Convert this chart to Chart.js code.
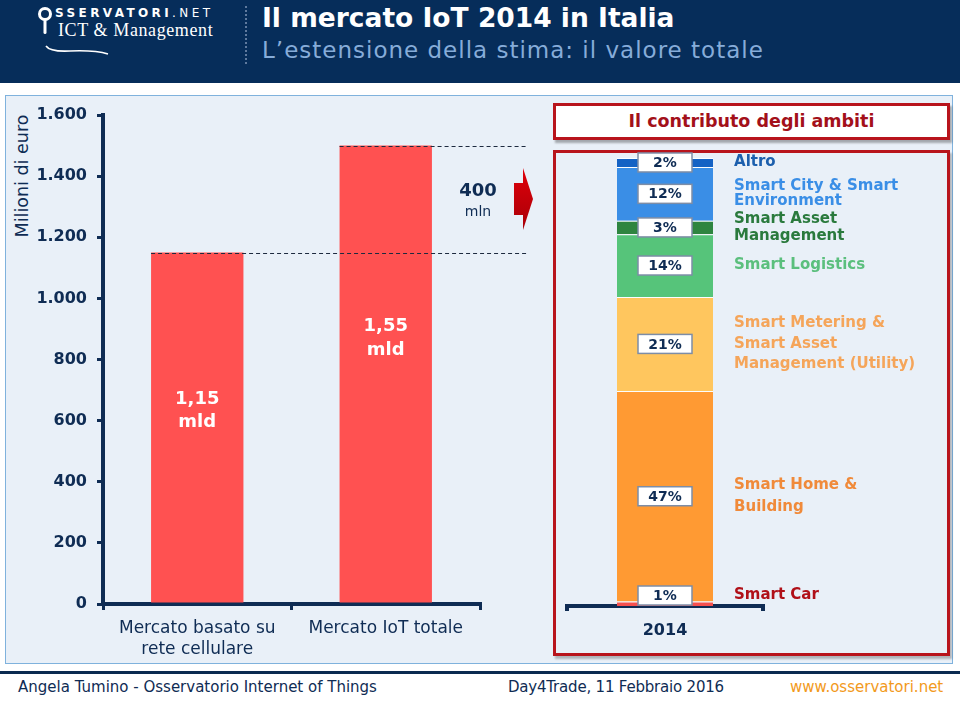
<!DOCTYPE html>
<html><head><meta charset="utf-8">
<script src="https://cdn.jsdelivr.net/npm/chart.js@4.4.1/dist/chart.umd.min.js"></script>
<style>
html,body{margin:0;padding:0;background:#fff;width:960px;height:702px;overflow:hidden;}
body{position:relative;font-family:'DejaVu Sans',sans-serif;}
.abs{position:absolute;white-space:nowrap;}
#header{left:0;top:0;width:960px;height:83px;background:#062d5a;}
#title{left:262px;top:2px;color:#fff;font:bold 26.5px 'DejaVu Sans',sans-serif;line-height:normal;}
#subtitle{left:262px;top:37px;color:#86acd9;font:23px 'DejaVu Sans',sans-serif;line-height:normal;letter-spacing:1px;}
#sep{left:245px;top:6px;height:58px;border-left:2px dotted #5f7a9e;}
#logo1{left:55px;top:6px;color:#fff;font:bold 12px 'DejaVu Sans';letter-spacing:3.4px;}
#logo1 span{font-weight:normal;}
#logo2{left:58px;top:20px;color:#fff;font:18px 'Liberation Serif',serif;letter-spacing:0.6px;}
#panel{left:5px;top:95px;width:946px;height:567px;background:#e9f0f8;border:1px solid #7fb2dd;}
#ytitle{left:22px;top:176px;transform:translate(-50%,-50%) rotate(-90deg);color:#0f2c54;font:17.5px 'DejaVu Sans';}
#tbox{left:553px;top:103px;width:397px;height:37px;box-sizing:border-box;background:#fff;border:3px solid #b8141c;box-shadow:2px 3px 2px rgba(0,0,0,0.3);color:#a3101a;font:bold 17.5px 'DejaVu Sans';text-align:center;line-height:31px;}
#rbox{left:553px;top:150px;width:397px;height:506px;box-sizing:border-box;border:3px solid #b8141c;box-shadow:2px 3px 2px rgba(0,0,0,0.25);}
#footline{left:0;top:671px;width:960px;height:3px;background:#0b2a50;}
.foot{top:678px;font:15px 'DejaVu Sans',sans-serif;line-height:normal;color:#0f2c54;}
</style></head>
<body>
<div id="header" class="abs"></div>
<svg class="abs" style="left:0;top:0" width="240" height="83">
  <circle cx="45" cy="14" r="5.5" fill="none" stroke="#fff" stroke-width="3"/>
  <rect x="43.5" y="19" width="3" height="15" rx="1.5" fill="#fff"/>
  <path d="M46 46 Q50 52 70 51 Q95 50 108 54" fill="none" stroke="#fff" stroke-width="1.6"/>
</svg>
<div id="logo1" class="abs">SSERVATORI<span>.NET</span></div>
<div id="logo2" class="abs">ICT &amp; Management</div>
<div id="sep" class="abs"></div>
<div id="title" class="abs">Il mercato IoT 2014 in Italia</div>
<div id="subtitle" class="abs">L’estensione della stima: il valore totale</div>
<div id="panel" class="abs"></div>
<div id="ytitle" class="abs">Milioni di euro</div>
<div id="tbox" class="abs">Il contributo degli ambiti</div>
<div id="rbox" class="abs"></div>
<canvas id="leftChart" class="abs" width="540" height="580" style="left:0;top:90px"></canvas>
<canvas id="rightChart" class="abs" width="397" height="506" style="left:553px;top:150px"></canvas>
<div id="footline" class="abs"></div>
<div class="abs foot" style="left:18px">Angela Tumino - Osservatorio Internet of Things</div>
<div class="abs foot" style="left:508px;letter-spacing:-0.2px">Day4Trade, 11 Febbraio 2016</div>
<div class="abs foot" style="left:790px;color:#f29a1c">www.osservatori.net</div>
<script>
// ---------- data ----------
const marketCategories = [['Mercato basato su', 'rete cellulare'], 'Mercato IoT totale'];
const marketValues = [1150, 1500];
const marketLabels = [['1,15', 'mld'], ['1,55', 'mld']];
const deltaLabel = ['400', 'mln'];
const yMin = 0, yMax = 1600, yStep = 200;

const yearCategories = ['2014'];
const segmentNames = ['Smart Car', 'Smart Home & Building', 'Smart Metering & Smart Asset Management (Utility)', 'Smart Logistics', 'Smart Asset Management', 'Smart City & Smart Environment', 'Altro'];
const segmentShares = [1, 47, 21, 14, 3, 12, 2];
const segmentLegendLines = [['Smart Car'], ['Smart Home &', 'Building'], ['Smart Metering &', 'Smart Asset', 'Management (Utility)'], ['Smart Logistics'], ['Smart Asset', 'Management'], ['Smart City & Smart', 'Environment'], ['Altro']];

// ---------- style ----------
const navy = '#0f2c54';
const barRed = '#ff5151';
const segmentColors = ['#f5504f', '#ff9a33', '#ffc65e', '#56c47a', '#2e8540', '#3a8ee6', '#1462c4'];
const legendColors = ['#b01018', '#f08a3a', '#f5a55a', '#5bbf7d', '#2a7a3d', '#3a8ee6', '#1c5fad'];
const legendLineHeights = [18, 22, 20.5, 18, 17, 15, 18];
const labelAnchorFractions = [0.55, 0.58];

function fmtIt(v) { return String(v).replace(/\B(?=(\d{3})+(?!\d))/g, '.'); }

const leftDecor = {
  id: 'leftDecor',
  afterDatasetsDraw(chart) {
    const { ctx, chartArea } = chart;
    const meta = chart.getDatasetMeta(0);
    const yS = chart.scales.y;
    const endX = chartArea.right + 48;
    ctx.save();
    ctx.setLineDash([4, 3]);
    ctx.strokeStyle = '#1d2a3f';
    ctx.lineWidth = 1.2;
    meta.data.forEach(bar => {
      const y = Math.round(bar.y) + 0.5;
      ctx.beginPath(); ctx.moveTo(bar.x - bar.width / 2, y); ctx.lineTo(endX, y); ctx.stroke();
    });
    ctx.setLineDash([]);
    ctx.textAlign = 'center'; ctx.textBaseline = 'middle';
    ctx.fillStyle = '#fff';
    ctx.font = 'bold 18px "DejaVu Sans"';
    meta.data.forEach((bar, i) => {
      const yc = yS.getPixelForValue(marketValues[i] * labelAnchorFractions[i]);
      marketLabels[i].forEach((t, j) => ctx.fillText(t, bar.x, yc + (j - 0.5) * 23.5));
    });
    const mid = (meta.data[0].y + meta.data[1].y) / 2;
    ctx.fillStyle = navy;
    ctx.font = 'bold 18px "DejaVu Sans"';
    ctx.fillText(deltaLabel[0], chartArea.right - 2, mid - 8);
    ctx.font = '14px "DejaVu Sans"';
    ctx.fillText(deltaLabel[1], chartArea.right - 2, mid + 13);
    const ax = chartArea.right + 34;
    const g = ctx.createLinearGradient(0, mid - 31, 0, mid + 31);
    g.addColorStop(0, '#e0000a'); g.addColorStop(1, '#a80008');
    ctx.fillStyle = g;
    ctx.beginPath();
    ctx.moveTo(ax, mid - 16); ctx.lineTo(ax + 9, mid - 16); ctx.lineTo(ax + 9, mid - 31);
    ctx.lineTo(ax + 19, mid); ctx.lineTo(ax + 9, mid + 31); ctx.lineTo(ax + 9, mid + 16);
    ctx.lineTo(ax, mid + 16); ctx.closePath(); ctx.fill();
    ctx.restore();
  }
};

new Chart(document.getElementById('leftChart'), {
  type: 'bar',
  data: { labels: marketCategories, datasets: [{ data: marketValues, backgroundColor: barRed, barPercentage: 0.49, categoryPercentage: 1 }] },
  options: {
    responsive: false, animation: false, devicePixelRatio: 1,
    layout: { padding: { top: 25, right: 60, bottom: 0, left: 0 } },
    plugins: { legend: { display: false }, tooltip: { enabled: false } },
    scales: {
      x: {
        afterFit(s) { s.height = 66; },
        border: { display: true, color: navy, width: 4 },
        grid: { drawOnChartArea: false, drawTicks: true, tickLength: 6, color: navy, lineWidth: 3, offset: true },
        ticks: { color: navy, font: { family: 'DejaVu Sans', size: 17, lineHeight: 1.25 }, padding: 8, maxRotation: 0 }
      },
      y: {
        min: yMin, max: yMax,
        afterFit(s) { s.width = 103; },
        border: { display: true, color: navy, width: 4 },
        grid: { drawOnChartArea: false, drawTicks: true, tickLength: 6, color: navy, lineWidth: 3 },
        ticks: { stepSize: yStep, color: navy, font: { family: 'DejaVu Sans', size: 16, weight: 'bold' }, padding: 10, callback: v => fmtIt(v) }
      }
    }
  },
  plugins: [leftDecor]
});

const rightDecor = {
  id: 'rightDecor',
  afterDatasetsDraw(chart) {
    const { ctx, chartArea } = chart;
    ctx.save();
    chart.data.datasets.forEach((ds, i) => {
      const el = chart.getDatasetMeta(i).data[0];
      const cy = (el.y + el.base) / 2;
      const bw = 54, bh = 19;
      let top = cy - bh / 2;
      if (top + bh > chartArea.bottom - 1) top = chartArea.bottom - 1 - bh;
      ctx.fillStyle = '#fff';
      ctx.fillRect(el.x - bw / 2, top, bw, bh);
      ctx.strokeStyle = '#7d8da6'; ctx.lineWidth = 1.5;
      ctx.strokeRect(el.x - bw / 2, top, bw, bh);
      ctx.fillStyle = navy; ctx.font = 'bold 14px "DejaVu Sans"';
      ctx.textAlign = 'center'; ctx.textBaseline = 'middle';
      ctx.fillText(ds.data[0] + '%', el.x, top + bh / 2 + 1);
      const lines = segmentLegendLines[i];
      const lh = legendLineHeights[i];
      let lc = cy;
      const half = (lines.length * lh) / 2;
      if (lc + half > chartArea.bottom - 2) lc = chartArea.bottom - 2 - half;
      ctx.fillStyle = legendColors[i];
      ctx.font = 'bold 15px "DejaVu Sans"';
      ctx.textAlign = 'left';
      lines.forEach((t, j) => ctx.fillText(t, el.x + el.width / 2 + 21, lc + (j - (lines.length - 1) / 2) * lh));
    });
    ctx.restore();
  }
};

new Chart(document.getElementById('rightChart'), {
  type: 'bar',
  data: {
    labels: yearCategories,
    datasets: segmentNames.map((n, i) => ({
      label: n, data: [segmentShares[i]], backgroundColor: segmentColors[i],
      borderColor: 'rgba(255,255,255,0.85)', borderWidth: { top: 1, bottom: 0, left: 0, right: 0 },
      barPercentage: 0.49, categoryPercentage: 1
    }))
  },
  options: {
    responsive: false, animation: false, devicePixelRatio: 1,
    layout: { padding: { top: 8, right: 187, bottom: 0, left: 14 } },
    plugins: { legend: { display: false }, tooltip: { enabled: false } },
    scales: {
      x: {
        stacked: true,
        afterFit(s) { s.height = 50; },
        border: { display: true, color: navy, width: 4 },
        grid: { drawOnChartArea: false, drawTicks: true, tickLength: 5, color: navy, lineWidth: 4, offset: true },
        ticks: { color: navy, font: { family: 'DejaVu Sans', size: 16, weight: 'bold' }, padding: 10 }
      },
      y: { stacked: true, display: false, min: 0, max: 100 }
    }
  },
  plugins: [rightDecor]
});
</script>
</body></html>
